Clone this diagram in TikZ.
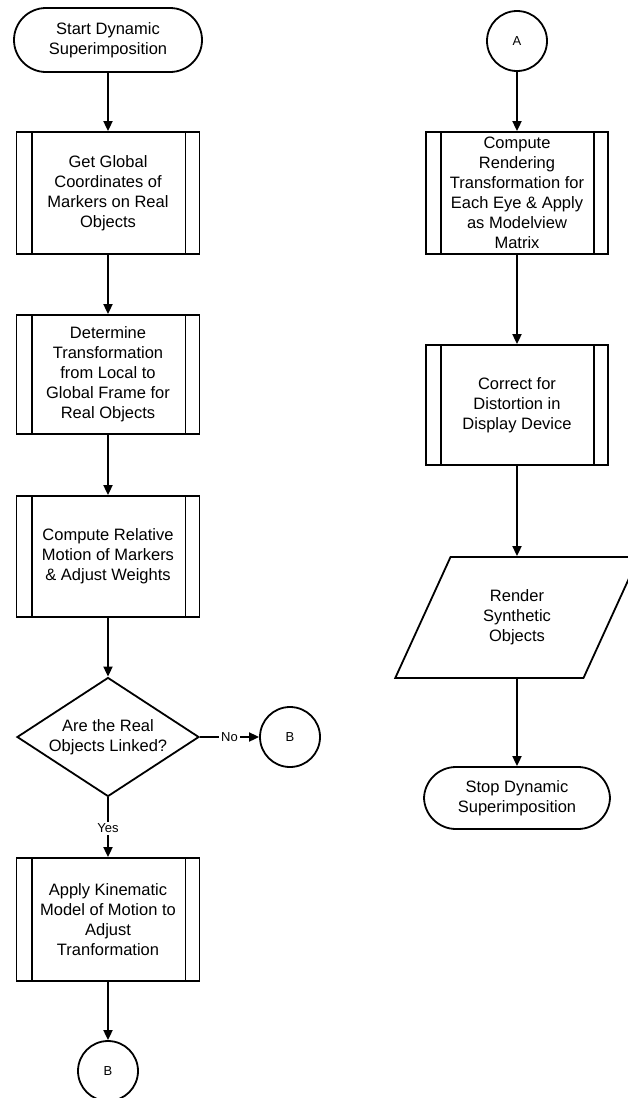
\documentclass[tikz,border=0pt]{standalone}
\usepackage{fontspec}
\setmainfont{Liberation Sans}
\usetikzlibrary{shapes.geometric,arrows.meta}

\begin{document}
\begin{tikzpicture}[x=0.5pt,y=-0.5pt,line width=0.9pt,
  every node/.style={font=\fontsize{8.25}{10}\selectfont, align=center},
  term/.style={draw, rectangle, rounded corners=16pt, minimum width=94pt, minimum height=32pt},
  proc/.style={draw, rectangle, minimum width=91.5pt, minimum height=61pt, inner sep=0pt},
  ask/.style={draw, diamond, minimum width=91pt, minimum height=59.5pt, inner sep=0pt, aspect=1.53},
  jump/.style={draw, circle, minimum size=30pt, inner sep=0pt, font=\fontsize{6.5}{8}\selectfont},
  io/.style={draw, trapezium, trapezium left angle=63, trapezium right angle=117,
    trapezium stretches=true, minimum width=122.5pt, minimum height=60.5pt, inner sep=0pt},
  flow/.style={-{Triangle[length=5pt,width=4.5pt]}},
  tag/.style={fill=white, inner sep=1pt, font=\fontsize{6.5}{8}\selectfont}]
 \useasboundingbox (0,0) rectangle (627,1098);
 % left column
 \node (start) [term] at (108,40) {Start Dynamic\\Superimposition};
 \node (get) [proc] at (108,193) {Get Global\\Coordinates of\\Markers on Real\\Objects};
 \node (det) [proc, minimum height=59.5pt] at (108,374.5) {Determine\\Transformation\\from Local to\\Global Frame for\\Real Objects};
 \node (rel) [proc, minimum height=60.5pt] at (108,556.5) {Compute Relative\\Motion of Markers\\\& Adjust Weights};
 \node (linked) [ask] at (108,737) {Are the Real\\Objects Linked?};
 \node (b1) [jump] at (290,737) {B};
 \node (apply) [proc, minimum height=61.5pt] at (108,919.5) {Apply Kinematic\\Model of Motion to\\Adjust\\Tranformation};
 \node (b2) [jump] at (108,1071) {B};
 % right column
 \node (a) [jump] at (517,41) {A};
 \node (render) [proc, minimum width=91pt] at (517,193) {Compute\\Rendering\\Transformation for\\Each Eye \& Apply\\as Modelview\\Matrix};
 \node (correct) [proc, minimum width=91pt, minimum height=60pt] at (517,405) {Correct for\\Distortion in\\Display Device};
 \node (synth) [io] at (517,617.5) {Render\\Synthetic\\Objects};
 \node (stop) [term, minimum width=93pt, minimum height=31pt] at (517,798) {Stop Dynamic\\Superimposition};
 % side bars of the process boxes
 \foreach \n in {get,det,rel,apply,render,correct}
   \draw ([xshift=8pt]\n.north west) -- ([xshift=8pt]\n.south west)
         ([xshift=-7.5pt]\n.north east) -- ([xshift=-7.5pt]\n.south east);
 % connectors
 \draw[flow] (start) -- (get);
 \draw[flow] (get) -- (det);
 \draw[flow] (det) -- (rel);
 \draw[flow] (rel) -- (linked);
 \draw[flow] (linked) -- node[tag] {No} (b1);
 \draw[flow] (linked) -- node[tag, pos=0.52] {Yes} (apply);
 \draw[flow] (apply) -- (b2);
 \draw[flow] (a) -- (render);
 \draw[flow] (render) -- (correct);
 \draw[flow] (correct) -- (synth);
 \draw[flow] (synth) -- (stop);
\end{tikzpicture}
\end{document}
